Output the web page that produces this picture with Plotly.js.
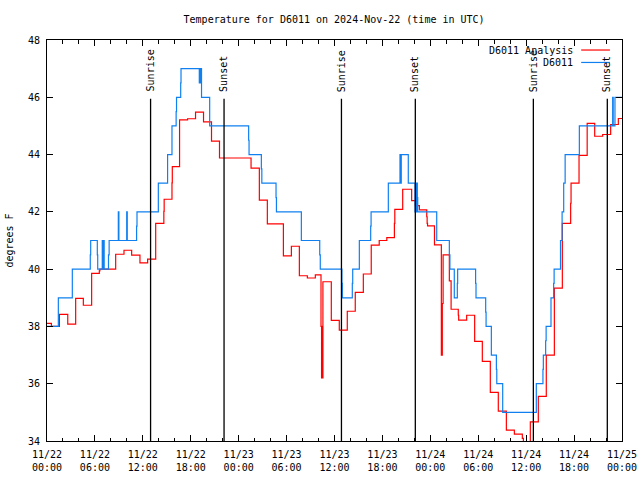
<!DOCTYPE html>
<html>
<head>
<meta charset="utf-8">
<script src="https://cdn.plot.ly/plotly-3.0.1.min.js"></script>
<style>html,body{margin:0;padding:0;background:#fff;}#chart{width:640px;height:480px;}</style>
</head>
<body>
<div id="chart"></div>
<script>
// Hours after 2024-11-22 00:00 UTC
const obsHours = [0,1.42,3.17,5.42,5.47,6.3,6.35,6.92,7.0,7.08,7.16,7.7,7.78,8.93,9.0,9.98,10.05,11.22,11.27,13.94,15.1,15.65,16.17,16.22,16.74,16.78,19.07,19.15,19.22,19.28,19.35,20.37,25.25,25.3,26.84,26.9,28.68,28.73,31.85,34.15,34.22,36.93,36.98,38.23,38.28,39.11,40.53,40.58,42.74,44.2,44.28,44.36,45.24,46.08,46.15,46.22,46.3,46.37,46.42,48.8,50.38,50.45,51.0,51.38,51.42,53.67,53.72,54.93,54.98,55.64,56.27,56.32,57.06,61.27,62.1,62.15,62.44,62.5,63.11,63.44,63.5,64.3,64.5,64.7,64.88,66.66,70.83,70.9,71.12,72];
const obsTemps = [38,39,40,40.5,41,40.5,40,41,40,41,40,40.5,41,42,41,42,41,41.5,42,43,44,45,45.5,46,46.5,47,46.5,47,46.5,47,46,45,44.5,44,43.5,43,42.5,42,41,40.5,40,39.5,39,39.5,40,41,41.5,42,43,44,43,44,43,42,43,42,43,42.5,42,41,40.5,40,39,39.5,40,39.5,39,38.5,38,37,36.5,36,35,36,36.5,37,37.5,38,39,39.5,40,41,42,43,44,45,46,45,46,46];

const anaHours = [0,0.55,1.55,2.6,3.59,4.55,5.59,6.55,6.62,8.6,9.64,10.6,11.64,12.6,13.61,14.63,14.67,15.65,15.69,16.6,17.6,18.6,19.6,20.6,21.6,25.55,26.59,27.59,29.6,30.6,31.6,32.6,33.6,34.31,34.38,34.42,34.46,34.55,35.6,36.6,37.6,38.6,39.61,40.6,41.6,42.55,43.5,43.55,44.54,45.66,46.12,46.63,47.55,47.6,47.65,48.52,49.38,49.5,49.6,50.38,50.6,51.5,51.55,52.55,53.55,54.51,55.51,56.51,57.52,58.52,59.52,59.65,60.52,61.52,62.52,63.53,64.53,65.57,65.62,66.62,67.64,68.58,69.58,70.58,71.54,72];
const anaTemps = [38.11,38.0,38.42,38.08,38.98,38.74,39.85,39.94,40.0,40.52,40.66,40.49,40.22,40.35,41.6,42.02,42.44,43.01,43.58,45.21,45.25,45.48,45.14,44.47,43.88,43.53,42.41,41.58,40.46,40.8,39.77,39.69,39.8,38.0,36.2,38.0,36.2,39.56,38.21,37.87,38.53,39.19,39.83,40.84,41.0,41.1,41.6,42.09,42.79,42.39,42.22,42.07,41.83,41.6,41.51,40.85,37.0,38.8,40.5,39.59,38.6,38.39,38.22,38.39,37.48,36.78,35.7,35.04,34.38,34.24,34.09,33.8,34.67,35.56,37.0,39.34,41.6,42.3,43.0,43.97,45.09,44.64,44.7,45.05,45.26,45.26];

const sunHours = [12.97,22.17,36.87,46.12,60.9,70.16];
const sunLabels = ["Sunrise","Sunset","Sunrise","Sunset","Sunrise","Sunset"];

const seriesNames = ["D6011 Analysis","D6011"];
const chartTitle = "Temperature for D6011 on 2024-Nov-22 (time in UTC)";
const yTitle = "degrees F";

const base = Date.UTC(2024,10,22);
const toMs = h => base + h*3600000;

const FONT = "DejaVu Sans Mono, Liberation Mono, monospace";
const RED = "#ff0000", BLUE = "#1080f0";

const traces = [
  {x: anaHours.map(toMs), y: anaTemps, type:'scatter', mode:'lines', line:{shape:'hv', color:RED, width:1.2}, name:seriesNames[0]},
  {x: obsHours.map(toMs), y: obsTemps, type:'scatter', mode:'lines', line:{shape:'hv', color:BLUE, width:1.2}, name:seriesNames[1]}
];

const shapes = [];
const annotations = [];
sunHours.forEach((h,i)=>{
  shapes.push({type:'line', xref:'x', yref:'y', x0:toMs(h), x1:toMs(h), y0:34, y1:45.95, line:{color:'#000', width:1.3}});
  annotations.push({xref:'x', yref:'y', x:toMs(h), y:46.12, text:sunLabels[i], textangle:-90, showarrow:false, xanchor:'center', yanchor:'bottom', font:{family:FONT, size:10, color:'#000'}});
});
// legend (gnuplot style: text then sample)
const legY = [0.975, 0.944];
const legCol = [RED, BLUE];
seriesNames.forEach((n,i)=>{
  annotations.push({xref:'paper', yref:'paper', x:0.919, y:legY[i], text:n, showarrow:false, xanchor:'right', yanchor:'middle', font:{family:FONT, size:10, color:'#000'}});
  shapes.push({type:'line', xref:'paper', yref:'paper', x0:0.929, x1:0.979, y0:legY[i], y1:legY[i], line:{color:legCol[i], width:1.2}});
});

const layout = {
  width:640, height:480,
  margin:{l:47, r:18, t:40, b:39},
  paper_bgcolor:'#fff', plot_bgcolor:'#fff',
  showlegend:false, hovermode:false,
  font:{family:FONT, size:10, color:'#000'},
  title:{text:chartTitle, x:0.522, xanchor:'center', y:0.96, yanchor:'middle', font:{family:FONT, size:10, color:'#000'}},
  xaxis:{type:'date', range:[toMs(0), toMs(72)], tickmode:'linear', tick0:toMs(0), dtick:6*3600000,
    tickformat:'%m/%d<br>%H:%M', ticks:'inside', ticklen:6, tickwidth:1, tickcolor:'#000',
    minor:{dtick:2*3600000, ticks:'inside', ticklen:3.5, tickcolor:'#000', tickwidth:1, showgrid:false},
    showline:true, linecolor:'#000', linewidth:1, mirror:'allticks', showgrid:false, zeroline:false,
    tickfont:{family:FONT, size:10, color:'#000'}, ticklabelstandoff:4},
  yaxis:{range:[34,48], tickmode:'linear', tick0:34, dtick:2, ticks:'inside', ticklen:6, tickwidth:1, tickcolor:'#000',
    showline:true, linecolor:'#000', linewidth:1, mirror:'allticks', showgrid:false, zeroline:false,
    tickfont:{family:FONT, size:10, color:'#000'}, ticklabelstandoff:4,
    title:{text:yTitle, font:{family:FONT, size:10, color:'#000'}, standoff:12}},
  shapes:shapes, annotations:annotations
};

Plotly.newPlot('chart', traces, layout, {staticPlot:true, displayModeBar:false});
</script>
</body>
</html>
